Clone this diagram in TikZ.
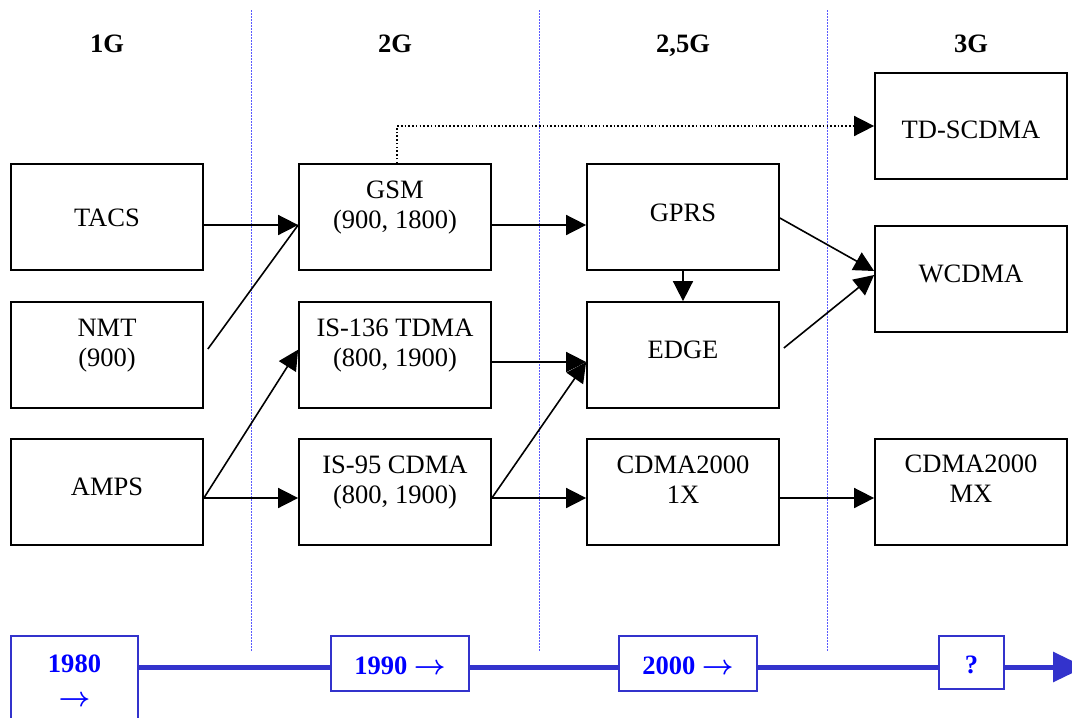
\documentclass[tikz,border=0pt]{standalone}
\usepackage{fontspec}
\setmainfont{Liberation Serif}
\usetikzlibrary{arrows.meta,calc}
\definecolor{tlblue}{RGB}{51,51,204}
\definecolor{guide}{RGB}{90,90,255}
\newcommand{\yeararrow}{{\boldmath$\rightarrow$}}
\begin{document}
\begin{tikzpicture}[x=0.75pt,y=-0.75pt,
  box/.style={draw=black, line width=1.3pt, fill=white, inner sep=0pt,
              minimum width=144pt, minimum height=79.5pt},
  lbl/.style={anchor=base, inner sep=0pt, font=\fontsize{19.9}{24}\selectfont},
  head/.style={lbl, font=\fontsize{19.9}{24}\selectfont\bfseries},
  link/.style={line width=1.2pt, -{Triangle[length=15pt,width=15pt]}},
  plainlink/.style={line width=1.2pt},
  dots/.style={line width=1.2pt, dash pattern=on 1.2pt off 1.6pt,
               -{Triangle[length=15pt,width=15pt]}},
  guideline/.style={draw=guide, line width=0.75pt, dash pattern=on 1.5pt off 0.75pt},
  yearbox/.style={draw=tlblue, line width=1.3pt, fill=white, inner sep=0pt},
  yearlbl/.style={lbl, text=blue, font=\fontsize{19.9}{24}\selectfont\bfseries},
  tline/.style={draw=tlblue, line width=3.75pt},
]
\useasboundingbox (0,0) rectangle (1072,718);

% generation separators
\draw[guideline] (251,10) -- (251,651);
\draw[guideline] (539,10) -- (539,651);
\draw[guideline] (827,10) -- (827,651);

% generation headings
\node[head] (h1) at (107,52) {1G};
\node[head] (h2) at (395,52) {2G};
\node[head] (h3) at (683,52) {2,5G};
\node[head] (h4) at (971,52) {3G};

% 1G
\node[box] (tacs) at (107,217) {};
\node[lbl] (tacst) at (107,226) {TACS};
\node[box] (nmt) at (107,355) {};
\node[lbl] (nmta) at (107,336) {NMT};
\node[lbl] (nmtb) at (107,366) {(900)};
\node[box] (amps) at (107,492) {};
\node[lbl] (ampst) at (107,495) {AMPS};

% 2G
\node[box] (gsm) at (395,217) {};
\node[lbl] (gsma) at (395,198) {GSM};
\node[lbl] (gsmb) at (395,228) {(900, 1800)};
\node[box] (is136) at (395,355) {};
\node[lbl] (is136a) at (395,336) {IS-136 TDMA};
\node[lbl] (is136b) at (395,366) {(800, 1900)};
\node[box] (is95) at (395,492) {};
\node[lbl] (is95a) at (395,473) {IS-95 CDMA};
\node[lbl] (is95b) at (395,503) {(800, 1900)};

% 2,5G
\node[box] (gprs) at (683,217) {};
\node[lbl] (gprst) at (683,221) {GPRS};
\node[box] (edge) at (683,355) {};
\node[lbl] (edget) at (683,358) {EDGE};
\node[box] (onex) at (683,492) {};
\node[lbl] (onexa) at (683,473) {CDMA2000};
\node[lbl] (onexb) at (683,503) {1X};

% 3G
\node[box] (tdscdma) at (971,126) {};
\node[lbl] (tdscdmat) at (971,138) {TD-SCDMA};
\node[box] (wcdma) at (971,279) {};
\node[lbl] (wcdmat) at (971,282) {WCDMA};
\node[box] (mx) at (971,492) {};
\node[lbl] (mxa) at (971,472) {CDMA2000};
\node[lbl] (mxb) at (971,502) {MX};

% evolution paths
\draw[link] ([yshift=-6pt]tacs.east) -- ([yshift=-6pt]gsm.west);
\draw[plainlink] ([xshift=3pt,yshift=4.5pt]nmt.east) -- ([yshift=-6pt]gsm.west);
\draw[link] ([yshift=-4.5pt]amps.east) -- ([yshift=4pt]is136.west);
\draw[link] ([yshift=-4.5pt]amps.east) -- ([yshift=-4.5pt]is95.west);
\draw[link] ([yshift=-6pt]gsm.east) -- ([yshift=-6pt]gprs.west);
\draw[link] ([yshift=-5.25pt]is136.east) -- ([yshift=-5.25pt]edge.west);
\draw[link] ([yshift=-4.5pt]is95.east) -- ([yshift=-5.25pt]edge.west);
\draw[link] ([yshift=-4.5pt]is95.east) -- ([yshift=-4.5pt]onex.west);
\draw[link] (gprs.south) -- (edge.north);
\draw[link] ([yshift=-0.75pt]gprs.east) -- ([yshift=6pt]wcdma.west);
\draw[link] ([xshift=3pt,yshift=5.25pt]edge.east) -- ([yshift=3pt]wcdma.west);
\draw[link] ([yshift=-4.5pt]onex.east) -- ([yshift=-4.5pt]mx.west);
\draw[dots] ([xshift=1.5pt]gsm.north) |- (tdscdma.west);

% timeline
\node[yearbox, minimum width=95.25pt, minimum height=78pt] (y80) at (74.5,688) {};
\node[yearlbl] (y80a) at (74.5,672) {1980};
\node[yearlbl] (y80b) at (74.5,706) {\yeararrow};
\node[yearbox, minimum width=103.5pt, minimum height=41.25pt] (y90) at (400,663.5) {};
\node[yearlbl] (y90t) at (400,674) {1990 \yeararrow};
\node[yearbox, minimum width=103.5pt, minimum height=41.25pt] (y00) at (688,663.5) {};
\node[yearlbl] (y00t) at (688,674) {2000 \yeararrow};
\node[yearbox, minimum width=48.75pt, minimum height=39.75pt] (yq) at (971.5,662.5) {};
\node[yearlbl] (yqt) at (971.5,673) {?};
\coordinate (tip) at (1085,667);
\draw[tline] (y80.east |- tip) -- (y90.west |- tip);
\draw[tline] (y90.east |- tip) -- (y00.west |- tip);
\draw[tline] (y00.east |- tip) -- (yq.west |- tip);
\draw[tline, -{Triangle[length=24pt,width=22pt]}] (yq.east |- tip) -- (tip);
\end{tikzpicture}
\end{document}
